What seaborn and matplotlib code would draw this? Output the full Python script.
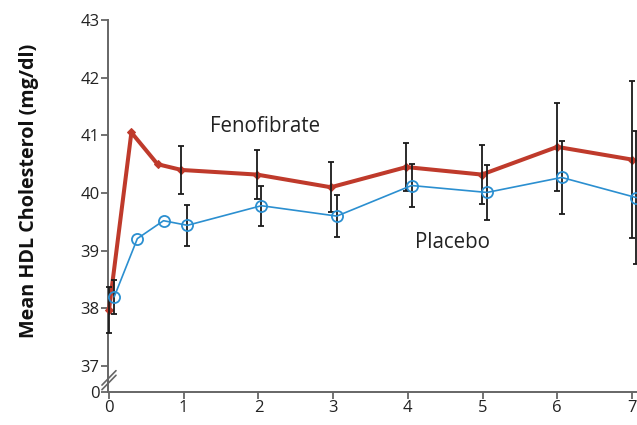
import matplotlib
matplotlib.use("Agg")
import matplotlib.pyplot as plt
import seaborn as sns
import pandas as pd
from matplotlib.lines import Line2D

# ---- data ----
feno_month = [0.0, 0.3, 0.65, 0.97, 1.98, 2.97, 3.98, 4.99, 6.0, 7.0]
feno_hdl = [37.97, 41.05, 40.5, 40.4, 40.32, 40.1, 40.45, 40.32, 40.8, 40.58]
feno_err = [0.4, None, None, 0.41, 0.42, 0.43, 0.41, 0.51, 0.76, 1.36]

plac_month = [0.07, 0.38, 0.73, 1.05, 2.04, 3.05, 4.05, 5.06, 6.06, 7.06]
plac_hdl = [38.2, 39.21, 39.52, 39.44, 39.78, 39.6, 40.13, 40.01, 40.27, 39.92]
plac_err = [0.3, None, None, 0.35, 0.35, 0.37, 0.37, 0.47, 0.63, 1.15]

x_ticks = [0, 1, 2, 3, 4, 5, 6, 7]
y_ticks = [37, 38, 39, 40, 41, 42, 43]
y_break_label = "0"
ylabel = "Mean HDL Cholesterol (mg/dl)"
label_feno = "Fenofibrate"
label_plac = "Placebo"

RED = "#bf3a2b"
BLUE = "#2b8fd0"

sns.set_theme(style="white")
plt.rcParams["font.family"] = ["Open Sans", "DejaVu Sans"]

fig = plt.figure(figsize=(6.37, 4.25), dpi=100)
ax = fig.add_axes([108 / 637, 33 / 425, 529 / 637, 372 / 425])

y_bottom = 36.55
ax.set_xlim(-0.013, 7.068)
ax.set_ylim(y_bottom, 43)

df_f = pd.DataFrame({"month": feno_month, "hdl": feno_hdl})
df_p = pd.DataFrame({"month": plac_month, "hdl": plac_hdl})

# error bars
def draw_err(xs, ys, es):
    xe = [x for x, e in zip(xs, es) if e is not None]
    ye = [y for y, e in zip(ys, es) if e is not None]
    ee = [e for e in es if e is not None]
    ax.errorbar(xe, ye, yerr=ee, fmt="none", ecolor="#1a1a1a", elinewidth=1.3,
                capsize=2.5, capthick=1.3, zorder=4, clip_on=False)

draw_err(feno_month, feno_hdl, feno_err)
draw_err(plac_month, plac_hdl, plac_err)

sns.lineplot(data=df_f, x="month", y="hdl", ax=ax, color=RED, linewidth=2.9,
             marker="D", markersize=4.5, markeredgecolor=RED, markerfacecolor=RED,
             sort=False, zorder=3, clip_on=False)
sns.lineplot(data=df_p, x="month", y="hdl", ax=ax, color=BLUE, linewidth=1.2,
             marker="o", markersize=8, markerfacecolor="none", markeredgecolor=BLUE,
             markeredgewidth=1.3, sort=False, zorder=5, clip_on=False)

ax.text(2.09, 41.15, label_feno, fontsize=14.8, color="#222222", ha="center", va="center")
ax.text(4.6, 39.15, label_plac, fontsize=14.8, color="#222222", ha="center", va="center")

# axes styling
for s in ["top", "right"]:
    ax.spines[s].set_visible(False)
for s in ["left", "bottom"]:
    ax.spines[s].set_color("#666666")
    ax.spines[s].set_linewidth(1.4)

ax.set_xticks(x_ticks)
ax.set_xticklabels([str(v) for v in x_ticks])
ax.set_yticks([y_bottom] + y_ticks)
ax.set_yticklabels([y_break_label] + [str(v) for v in y_ticks])
ax.tick_params(axis="both", direction="out", length=5, width=1.3, color="#666666",
               labelsize=12, labelcolor="#222222", pad=1, left=True, bottom=True)
ax.set_xlabel("")
ax.set_ylabel(ylabel, fontsize=14.2, fontweight="bold", color="#111111")
ax.yaxis.set_label_coords(-0.13, 0.54)
ax.grid(False)

# axis break marks
for y0 in [36.59, 36.67]:
    ax.add_line(Line2D([-0.094, 0.094], [y0, y0 + 0.25], color="#666666",
                       linewidth=1.2, clip_on=False))

fig.savefig("out.png", dpi=100)
